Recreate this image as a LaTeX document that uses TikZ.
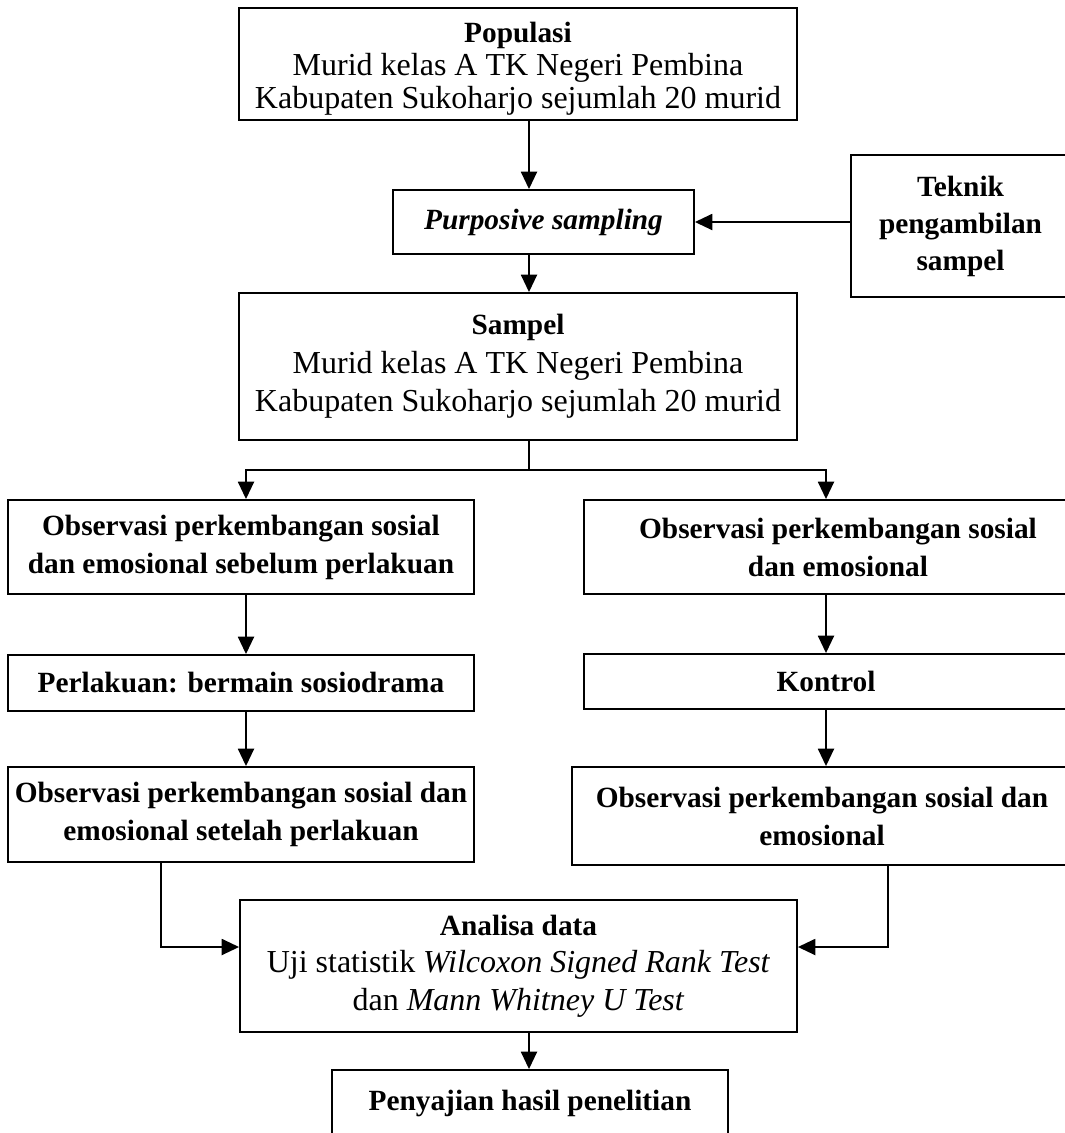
\documentclass[tikz,border=0pt]{standalone}
\usepackage{fontspec}
\setmainfont{Liberation Serif}
\usetikzlibrary{arrows.meta}
\begin{document}
\begin{tikzpicture}[x=0.75pt,y=-0.75pt,
  box/.style={draw, line width=1.4pt, align=center, inner sep=0pt},
  sz/.style 2 args={minimum width=#1*0.75pt, minimum height=#2*0.75pt},
  reg/.style={font=\fontsize{24}{#1}\selectfont},
  bld/.style={font=\fontsize{22}{#1}\selectfont\bfseries},
  arr/.style={line width=1.4pt, -{Triangle[length=13pt,width=12pt]}},
  ln/.style={line width=1.4pt}]
\clip (0,0) rectangle (1065,1133);
\coordinate (cx) at (529,0);
\coordinate (lx) at (246,0);
\coordinate (rx) at (826,0);
\coordinate (llx) at (161,0);
\coordinate (rrx) at (888,0);
\coordinate (yy) at (0,947);
\coordinate (br) at (529,470);

\node[box, sz={558}{112}, reg=24.75] (pop) at (518,64)
  {{\fontsize{22}{24.75}\selectfont\bfseries \rule{0pt}{23pt}Populasi}\\Murid kelas A TK Negeri Pembina\\Kabupaten Sukoharjo sejumlah 20 murid};
\node[box, sz={301}{64}, bld=26] (purp) at (543.5,222) {\textit{Purposive sampling}};
\node[box, sz={219}{142}, bld=27.75] (tek) at (960.5,226) {Teknik\\pengambilan\\sampel};
\node[box, sz={558}{147}, reg=29] (smp) at (518,366.5)
  {{\fontsize{22}{29}\selectfont\bfseries Sampel}\\Murid kelas A TK Negeri Pembina\\Kabupaten Sukoharjo sejumlah 20 murid};
\node[box, sz={466}{94}, bld=28.5] (l1) at (241,547) {Observasi perkembangan sosial\\dan emosional sebelum perlakuan};
\node[box, sz={508}{94}, bld=28.5] (r1) at (838,547) {Observasi perkembangan sosial\\dan emosional};
\node[box, sz={466}{56}, bld=26] (l2) at (241,683) {Perlakuan: bermain sosiodrama};
\node[box, sz={484}{55}, bld=26] (r2) at (826,681.5) {Kontrol};
\node[box, sz={466}{95}, bld=28.5] (l3) at (241,814.5) {Observasi perkembangan sosial dan\\emosional setelah perlakuan};
\node[box, sz={500}{98}, bld=28.5] (r3) at (822,816) {Observasi perkembangan sosial dan\\emosional};
\node[box, sz={557}{132}, reg=28] (ana) at (518.5,966)
  {{\fontsize{22}{28}\selectfont\bfseries Analisa data}\\Uji statistik \textit{Wilcoxon Signed Rank Test}\\dan \textit{Mann Whitney U Test}};
\node[box, sz={396}{66}, bld=26] (pen) at (530,1103) {Penyajian hasil penelitian};

\draw[arr] (pop.south -| cx) -- (purp.north -| cx);
\draw[arr] (tek.west |- purp.east) -- (purp.east);
\draw[arr] (purp.south -| cx) -- (smp.north -| cx);
\draw[ln] (smp.south -| cx) -- (br);
\draw[arr] (br) -| (l1.north -| lx);
\draw[arr] (br) -| (r1.north -| rx);
\draw[arr] (l1.south -| lx) -- (l2.north -| lx);
\draw[arr] (l2.south -| lx) -- (l3.north -| lx);
\draw[arr] (r1.south -| rx) -- (r2.north -| rx);
\draw[arr] (r2.south -| rx) -- (r3.north -| rx);
\draw[arr] (l3.south -| llx) |- (ana.west |- yy);
\draw[arr] (r3.south -| rrx) |- (ana.east |- yy);
\draw[arr] (ana.south -| cx) -- (pen.north -| cx);
\end{tikzpicture}
\end{document}
